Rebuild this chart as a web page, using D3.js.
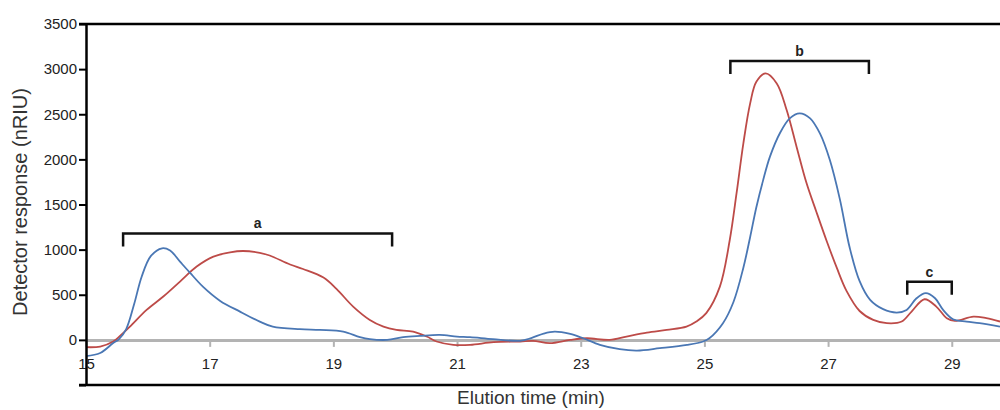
<!DOCTYPE html>
<html>
<head>
<meta charset="utf-8">
<script src="https://cdn.jsdelivr.net/npm/d3@7"></script>
<style>
  body { margin: 0; background: #fff; }
  svg { display: block; }
  text { font-family: "Liberation Sans", Arial, sans-serif; }
</style>
</head>
<body>
<div id="chart"></div>
<script>
// elution times (min) and detector response (nRIU)
var blueTime = [15.0, 15.23, 15.44, 15.53, 15.65, 15.78, 15.9, 16.05, 16.23, 16.36, 16.52, 16.68, 16.89, 17.17, 17.49, 17.81, 18.02,
    18.46, 18.78, 19.16, 19.43, 19.59, 19.87, 20.13, 20.4, 20.72, 21.0, 21.21, 21.58, 22.02, 22.2, 22.4, 22.58, 22.83,
    23.04, 23.31, 23.63, 23.91, 24.28, 24.72, 24.98, 25.08, 25.3, 25.47, 25.63, 25.74, 25.84, 25.95, 26.06, 26.22,
    26.38, 26.54, 26.71, 26.87, 27.03, 27.19, 27.35, 27.51, 27.68, 27.89, 28.11, 28.27, 28.43, 28.58, 28.73, 28.86,
    29.02, 29.24, 29.45, 29.78];
var blueResp = [-180, -145, -35, 5, 120, 400, 700, 930, 1015, 990, 867, 745, 590, 432, 313, 203, 147,
    118, 110, 92, 30, 8, 0, 30, 44, 55, 37, 30, 8, -10, 20, 70, 92, 66,
    18, -55, -103, -118, -92, -55, -18, 18, 185, 420, 800, 1140, 1470, 1770, 2030, 2290,
    2455, 2510, 2455, 2285, 1990, 1560, 1020, 650, 443, 340, 303, 332, 461, 517, 461, 332,
    229, 203, 185, 147];

var redTime = [15.0, 15.23, 15.44, 15.55, 15.71, 15.98, 16.25, 16.52, 16.79, 17.06, 17.33, 17.54, 17.81, 17.97, 18.3,
    18.51, 18.84, 19.05, 19.32, 19.59, 19.81, 20.02, 20.29, 20.51, 20.67, 20.94, 21.21, 21.59, 22.02, 22.23, 22.5,
    22.83, 23.1, 23.47, 23.74, 24.07, 24.39, 24.71, 24.87, 25.03, 25.25, 25.41, 25.52, 25.63, 25.74, 25.84, 25.99,
    26.17, 26.33, 26.49, 26.65, 26.81, 26.98, 27.14, 27.3, 27.51, 27.73, 27.95, 28.19, 28.35, 28.56, 28.75, 28.92,
    29.05, 29.35, 29.56, 29.78];
var redResp = [-81, -74, -18, 44, 147, 332, 480, 646, 812, 922, 970, 985, 965, 935, 835,
    785, 690, 565, 369, 221, 147, 111, 92, 37, -18, -55, -55, -26, -18, -11, -37,
    0, 18, 0, 37, 81, 111, 147, 203, 296, 590, 1107, 1625, 2178, 2621, 2860, 2953,
    2842, 2547, 2141, 1740, 1420, 1090, 800, 540, 320, 221, 185, 203, 314, 450, 369, 240,
    210, 258, 240, 203];

var xTicks = [15, 17, 19, 21, 23, 25, 27, 29];
var yTicks = [-500, 0, 500, 1000, 1500, 2000, 2500, 3000, 3500];

// fraction brackets: label, start, end, level
var bracketLabels = ["a", "b", "c"];
var bracketStart = [15.6, 25.42, 28.28];
var bracketEnd = [19.95, 27.66, 29.0];
var bracketLevel = [1180, 3090, 645];

var width = 1000,
    height = 410;

var xScale = d3.scaleLinear().domain([15, 29.78]).range([86, 1000]);
var yScale = d3.scaleLinear().domain([-500, 3500]).range([385, 24]);

var svg = d3.select("#chart").append("svg")
    .attr("width", width)
    .attr("height", height);

// zero baseline with grey ticks
var xAxis = d3.axisBottom(xScale)
    .tickValues(xTicks)
    .tickSize(7)
    .tickSizeOuter(0)
    .tickPadding(11)
    .tickFormat(d3.format("d"));
var gx = svg.append("g")
    .attr("transform", "translate(0," + yScale(0) + ")")
    .call(xAxis);
gx.select(".domain").attr("stroke", "#b3b3b3").attr("stroke-width", 3);
gx.selectAll(".tick line").attr("stroke", "#b3b3b3").attr("stroke-width", 2);
gx.selectAll(".tick text")
    .attr("fill", "#222")
    .style("font-size", "15px")
    .style("font-family", "'Liberation Sans', Arial, sans-serif");

// curves
function makeLine(times, resp){
    var pts = times.map(function(t, i){ return [t, resp[i]]; });
    return d3.line()
        .x(function(d){ return xScale(d[0]); })
        .y(function(d){ return yScale(d[1]); })
        .curve(d3.curveCatmullRom.alpha(0.5))(pts);
}

svg.append("path")
    .attr("d", makeLine(redTime, redResp))
    .attr("fill", "none")
    .attr("stroke", "#bd4b48")
    .attr("stroke-width", 1.8);

svg.append("path")
    .attr("d", makeLine(blueTime, blueResp))
    .attr("fill", "none")
    .attr("stroke", "#4a77b4")
    .attr("stroke-width", 1.8);

// y axis and frame
var yAxis = d3.axisLeft(yScale)
    .tickValues(yTicks)
    .tickSize(7)
    .tickSizeOuter(0)
    .tickPadding(2)
    .tickFormat(function(d){ return d < 0 ? "" : d; });
var gy = svg.append("g")
    .attr("transform", "translate(" + xScale(15) + ",0)")
    .call(yAxis);
gy.select(".domain").attr("stroke", "#000").attr("stroke-width", 2.5);
gy.selectAll(".tick line").attr("stroke", "#000").attr("stroke-width", 2);
gy.selectAll(".tick text")
    .attr("fill", "#222")
    .style("font-size", "15px")
    .style("font-family", "'Liberation Sans', Arial, sans-serif");

[3500, -500].forEach(function(v){
    svg.append("line")
        .attr("x1", xScale(15) - 7).attr("x2", width)
        .attr("y1", yScale(v)).attr("y2", yScale(v))
        .attr("stroke", "#000")
        .attr("stroke-width", 2.5);
});

// brackets
bracketLabels.forEach(function(lab, i){
    var x1 = xScale(bracketStart[i]),
        x2 = xScale(bracketEnd[i]),
        yb = yScale(bracketLevel[i]);
    svg.append("path")
        .attr("d", "M" + x1 + "," + (yb + 13) + "V" + yb + "H" + x2 + "V" + (yb + 13))
        .attr("fill", "none")
        .attr("stroke", "#111")
        .attr("stroke-width", 2.5);
    svg.append("text")
        .attr("x", (x1 + x2) / 2)
        .attr("y", yb - 5)
        .attr("text-anchor", "middle")
        .attr("font-size", 14)
        .attr("font-weight", "bold")
        .attr("fill", "#222")
        .text(lab);
});

// axis titles
svg.append("text")
    .attr("transform", "translate(27,202) rotate(-90)")
    .attr("text-anchor", "middle")
    .attr("font-size", 20)
    .attr("fill", "#333")
    .text("Detector response (nRIU)");

svg.append("text")
    .attr("x", 531)
    .attr("y", 404)
    .attr("text-anchor", "middle")
    .attr("font-size", 19)
    .attr("fill", "#333")
    .text("Elution time (min)");
</script>
</body>
</html>
